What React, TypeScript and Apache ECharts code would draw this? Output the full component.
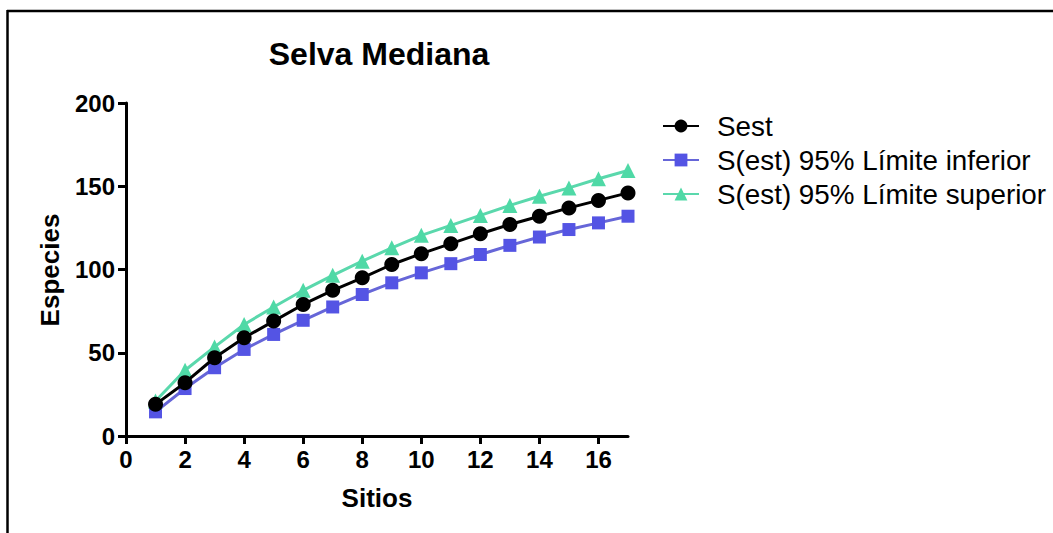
import React, { useEffect, useRef } from "react";
import * as echarts from "echarts";

const sitios = [1, 2, 3, 4, 5, 6, 7, 8, 9, 10, 11, 12, 13, 14, 15, 16, 17];
const sest = [19, 32, 47, 59, 69, 79, 87.5, 95, 103, 109.5, 115.5, 121.5, 127, 132, 137, 141.5, 146];
const limInferior = [14.5, 28.5, 41, 52, 61, 69.5, 77.5, 85, 92, 98, 103.5, 109, 114.5, 119.5, 124, 128, 132];
const limSuperior = [21, 39.5, 53.5, 67, 77.5, 87.5, 96.5, 105, 113, 120.5, 126.5, 132.5, 138.5, 144, 149, 154.5, 159.5];
const xTicks = [0, 2, 4, 6, 8, 10, 12, 14, 16];
const seriesNames = ["Sest", "S(est) 95% Límite inferior", "S(est) 95% Límite superior"];

const FONT = "'Liberation Sans', Arial, sans-serif";

export default function App() {
  const ref = useRef<HTMLDivElement>(null);
  useEffect(() => {
    if (!ref.current) return;
    const chart = echarts.init(ref.current, null, { renderer: "svg" });
    const pair = (arr: number[]) => sitios.map((s, i) => [s, arr[i]]);
    chart.setOption({
      animation: false,
      backgroundColor: "#ffffff",
      textStyle: { fontFamily: FONT },
      grid: { left: 126, right: 425, top: 103, bottom: 97, containLabel: false },
      xAxis: {
        type: "value",
        min: 0,
        max: 17,
        interval: 2,
        splitLine: { show: false },
        axisLine: { show: true, lineStyle: { color: "#000", width: 3 } },
        axisTick: { show: true, length: 8, lineStyle: { color: "#000", width: 3 }, customValues: xTicks },
        axisLabel: { color: "#000", fontSize: 24, fontWeight: "bold", fontFamily: FONT, margin: 11, customValues: xTicks },
      },
      yAxis: {
        type: "value",
        min: 0,
        max: 200,
        interval: 50,
        splitLine: { show: false },
        axisLine: { show: true, lineStyle: { color: "#000", width: 3 } },
        axisTick: { show: true, length: 8, lineStyle: { color: "#000", width: 3 } },
        axisLabel: { color: "#000", fontSize: 24, fontWeight: "bold", fontFamily: FONT, margin: 11 },
      },
      legend: {
        orient: "vertical",
        left: 662,
        top: 112,
        padding: 0,
        itemWidth: 36,
        itemHeight: 16,
        itemGap: 6,
        itemTextGap: 5,
        textStyle: { color: "#000", fontSize: 27.8, fontFamily: FONT, padding: [0, 0, 0, 13] },
        data: seriesNames,
      },
      series: [
        {
          name: seriesNames[2],
          type: "line",
          data: pair(limSuperior),
          symbol: "triangle",
          symbolSize: 15,
          lineStyle: { color: "#5ad8ac", width: 3 },
          itemStyle: { color: "#4fd9a6" },
          z: 2,
        },
        {
          name: seriesNames[1],
          type: "line",
          data: pair(limInferior),
          symbol: "rect",
          symbolSize: 13,
          lineStyle: { color: "#6666d8", width: 3 },
          itemStyle: { color: "#5454e4" },
          z: 3,
        },
        {
          name: seriesNames[0],
          type: "line",
          data: pair(sest),
          symbol: "circle",
          symbolSize: 15,
          lineStyle: { color: "#000", width: 3 },
          itemStyle: { color: "#000" },
          z: 4,
        },
      ],
      graphic: [
        { type: "line", shape: { x1: 7, y1: 11, x2: 1053, y2: 11 }, style: { stroke: "#000", lineWidth: 2.5 } },
        { type: "line", shape: { x1: 7.5, y1: 10, x2: 7.5, y2: 533 }, style: { stroke: "#000", lineWidth: 2.5 } },
        {
          type: "text",
          x: 379,
          y: 54,
          style: { text: "Selva Mediana", fontSize: 32, fontWeight: "bold", fontFamily: FONT, fill: "#000", align: "center", verticalAlign: "middle" },
        },
        {
          type: "text",
          x: 377,
          y: 498,
          style: { text: "Sitios", fontSize: 26, fontWeight: "bold", fontFamily: FONT, fill: "#000", align: "center", verticalAlign: "middle" },
        },
        {
          type: "text",
          x: 50,
          y: 270,
          rotation: Math.PI / 2,
          style: { text: "Especies", fontSize: 26, fontWeight: "bold", fontFamily: FONT, fill: "#000", align: "center", verticalAlign: "middle" },
        },
      ],
    });
    return () => chart.dispose();
  }, []);
  return (
    <div
      ref={ref}
      style={{ position: "fixed", left: 0, top: 0, width: 1053, height: 533, background: "#fff" }}
    />
  );
}
